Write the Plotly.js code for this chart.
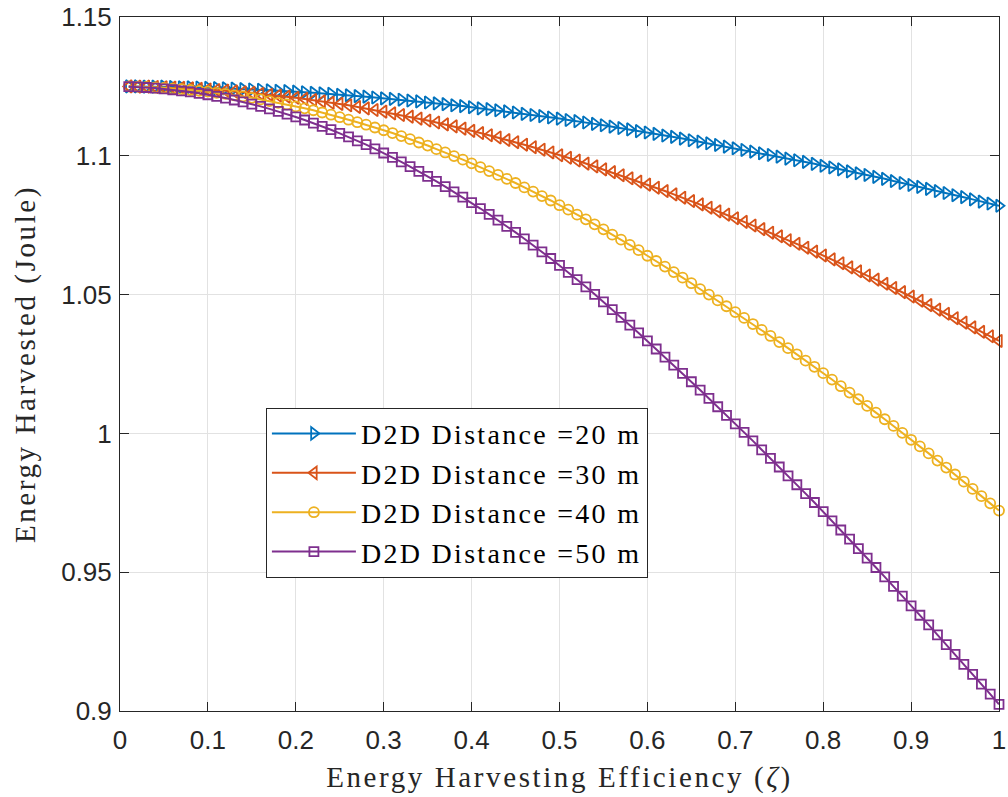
<!DOCTYPE html>
<html>
<head>
<meta charset="utf-8">
<script src="https://cdn.plot.ly/plotly-3.0.1.min.js"></script>
<style>
html,body{margin:0;padding:0;background:#fff;}
#chart{width:1008px;height:797px;}
.legendtext{letter-spacing:2.3px;}
.xtitle{letter-spacing:2.6px;}
.ytitle{letter-spacing:2.6px;}
</style>
</head>
<body>
<div id="chart"></div>
<script>
// Energy harvesting efficiency (zeta), 0.01 .. 1.00
var zeta = [];
for (var i = 1; i <= 100; i++) { zeta.push(i / 100); }

var seriesNames = ["D2D Distance =20 m", "D2D Distance =30 m", "D2D Distance =40 m", "D2D Distance =50 m"];

var energy20 = [
1.1250,1.1250,1.1249,1.1249,1.1249,1.1248,1.1247,1.1247,1.1246,1.1245,
1.1244,1.1243,1.1242,1.1240,1.1239,1.1238,1.1236,1.1234,1.1233,1.1231,
1.1229,1.1227,1.1225,1.1223,1.1220,1.1218,1.1215,1.1213,1.1210,1.1207,
1.1205,1.1202,1.1199,1.1196,1.1192,1.1189,1.1186,1.1182,1.1179,1.1175,
1.1171,1.1168,1.1164,1.1160,1.1156,1.1151,1.1147,1.1143,1.1138,1.1134,
1.1129,1.1125,1.1120,1.1115,1.1110,1.1105,1.1100,1.1095,1.1089,1.1084,
1.1079,1.1073,1.1068,1.1062,1.1056,1.1051,1.1045,1.1039,1.1033,1.1027,
1.1021,1.1015,1.1009,1.1003,1.0997,1.0990,1.0984,1.0978,1.0971,1.0964,
1.0958,1.0951,1.0944,1.0937,1.0931,1.0924,1.0917,1.0909,1.0902,1.0895,
1.0888,1.0881,1.0873,1.0866,1.0858,1.0851,1.0843,1.0835,1.0828,1.0820];

var energy30 = [
1.1250,1.1249,1.1249,1.1248,1.1247,1.1246,1.1245,1.1243,1.1241,1.1239,
1.1237,1.1235,1.1232,1.1229,1.1227,1.1223,1.1220,1.1217,1.1213,1.1209,
1.1205,1.1201,1.1196,1.1191,1.1187,1.1182,1.1176,1.1171,1.1165,1.1159,
1.1153,1.1147,1.1141,1.1134,1.1127,1.1120,1.1113,1.1106,1.1098,1.1090,
1.1082,1.1074,1.1066,1.1057,1.1049,1.1040,1.1031,1.1022,1.1012,1.1002,
1.0993,1.0983,1.0972,1.0962,1.0951,1.0941,1.0930,1.0919,1.0907,1.0896,
1.0885,1.0873,1.0861,1.0849,1.0837,1.0825,1.0813,1.0800,1.0788,1.0775,
1.0762,1.0749,1.0736,1.0723,1.0710,1.0696,1.0683,1.0669,1.0655,1.0641,
1.0627,1.0613,1.0598,1.0584,1.0569,1.0554,1.0539,1.0524,1.0509,1.0493,
1.0478,1.0462,1.0446,1.0431,1.0415,1.0399,1.0382,1.0366,1.0350,1.0333];

var energy40 = [
1.1250,1.1249,1.1248,1.1246,1.1245,1.1242,1.1240,1.1237,1.1234,1.1231,
1.1227,1.1223,1.1218,1.1214,1.1209,1.1203,1.1197,1.1191,1.1185,1.1178,
1.1171,1.1164,1.1156,1.1148,1.1139,1.1130,1.1121,1.1112,1.1102,1.1092,
1.1082,1.1071,1.1060,1.1048,1.1037,1.1024,1.1012,1.0999,1.0986,1.0973,
1.0959,1.0945,1.0931,1.0917,1.0902,1.0886,1.0871,1.0855,1.0839,1.0822,
1.0806,1.0788,1.0771,1.0753,1.0735,1.0716,1.0698,1.0679,1.0660,1.0640,
1.0621,1.0601,1.0581,1.0561,1.0541,1.0520,1.0500,1.0479,1.0458,1.0437,
1.0416,1.0394,1.0373,1.0351,1.0329,1.0307,1.0285,1.0262,1.0240,1.0217,
1.0194,1.0170,1.0147,1.0123,1.0099,1.0075,1.0051,1.0027,1.0002,0.9977,
0.9953,0.9928,0.9902,0.9877,0.9852,0.9826,0.9800,0.9774,0.9748,0.9722];

var energy50 = [
1.1249,1.1248,1.1246,1.1244,1.1241,1.1238,1.1234,1.1230,1.1225,1.1220,
1.1214,1.1208,1.1201,1.1194,1.1186,1.1178,1.1169,1.1160,1.1150,1.1140,
1.1129,1.1118,1.1106,1.1094,1.1081,1.1068,1.1054,1.1040,1.1025,1.1010,
1.0994,1.0978,1.0961,1.0944,1.0926,1.0908,1.0889,1.0870,1.0851,1.0831,
1.0810,1.0789,1.0768,1.0746,1.0724,1.0701,1.0678,1.0654,1.0630,1.0605,
1.0580,1.0554,1.0528,1.0501,1.0474,1.0446,1.0418,1.0390,1.0362,1.0333,
1.0304,1.0275,1.0246,1.0216,1.0186,1.0156,1.0126,1.0096,1.0065,1.0034,
1.0004,0.9973,0.9941,0.9910,0.9879,0.9847,0.9815,0.9783,0.9751,0.9718,
0.9685,0.9652,0.9619,0.9585,0.9551,0.9517,0.9483,0.9449,0.9414,0.9379,
0.9345,0.9310,0.9274,0.9239,0.9204,0.9168,0.9132,0.9097,0.9061,0.9024];

var xTickVals = [0,0.1,0.2,0.3,0.4,0.5,0.6,0.7,0.8,0.9,1];
var xTickText = ["0","0.1","0.2","0.3","0.4","0.5","0.6","0.7","0.8","0.9","1"];
var yTickVals = [0.9,0.95,1,1.05,1.1,1.15];
var yTickText = ["0.9","0.95","1","1.05","1.1","1.15"];

var colors = ["#0072BD", "#D95319", "#EDB120", "#7E2F8E"];
var symbols = ["triangle-right-open", "triangle-left-open", "circle-open", "square-open"];
var sizes = [11, 11, 10, 9];
var ys = [energy20, energy30, energy40, energy50];

var traces = ys.map(function (y, k) {
  return {
    x: zeta, y: y, type: "scatter", mode: "lines+markers", name: seriesNames[k],
    line: {color: colors[k], width: 2},
    marker: {symbol: symbols[k], size: sizes[k], color: colors[k], line: {color: colors[k], width: 1.8}},
    cliponaxis: false
  };
});

var axisCommon = {
  showline: true, linecolor: "#262626", linewidth: 1, mirror: "ticks",
  ticks: "inside", ticklen: 9, tickcolor: "#262626", tickwidth: 1,
  showgrid: true, gridcolor: "#e2e2e2", gridwidth: 1, zeroline: false,
  tickfont: {family: "Liberation Sans, Arial, sans-serif", size: 26, color: "#262626"}
};

var layout = {
  width: 1008, height: 797,
  margin: {l: 120, r: 9, t: 17, b: 86},
  paper_bgcolor: "#ffffff", plot_bgcolor: "#ffffff",
  showlegend: true,
  xaxis: Object.assign({}, axisCommon, {
    range: [0, 1], tickmode: "array", tickvals: xTickVals, ticktext: xTickText,
    ticklabelstandoff: 6,
    title: {text: "Energy Harvesting Efficiency (<i>ζ</i>)", font: {family: "Liberation Serif, Times New Roman, serif", size: 29, color: "#262626"}, standoff: 12}
  }),
  yaxis: Object.assign({}, axisCommon, {
    range: [0.9, 1.15], tickmode: "array", tickvals: yTickVals, ticktext: yTickText,
    ticklabelstandoff: 2,
    title: {text: "Energy Harvested (Joule)", font: {family: "Liberation Serif, Times New Roman, serif", size: 29, color: "#262626"}, standoff: 17}
  }),
  legend: {
    x: 0.166, y: 0.437, xanchor: "left", yanchor: "top",
    bgcolor: "#ffffff", bordercolor: "#262626", borderwidth: 1,
    font: {family: "Liberation Serif, Times New Roman, serif", size: 28, color: "#000000"},
    itemwidth: 84, tracegroupgap: 0
  }
};

Plotly.newPlot("chart", traces, layout, {displayModeBar: false, staticPlot: true});
</script>
</body>
</html>
